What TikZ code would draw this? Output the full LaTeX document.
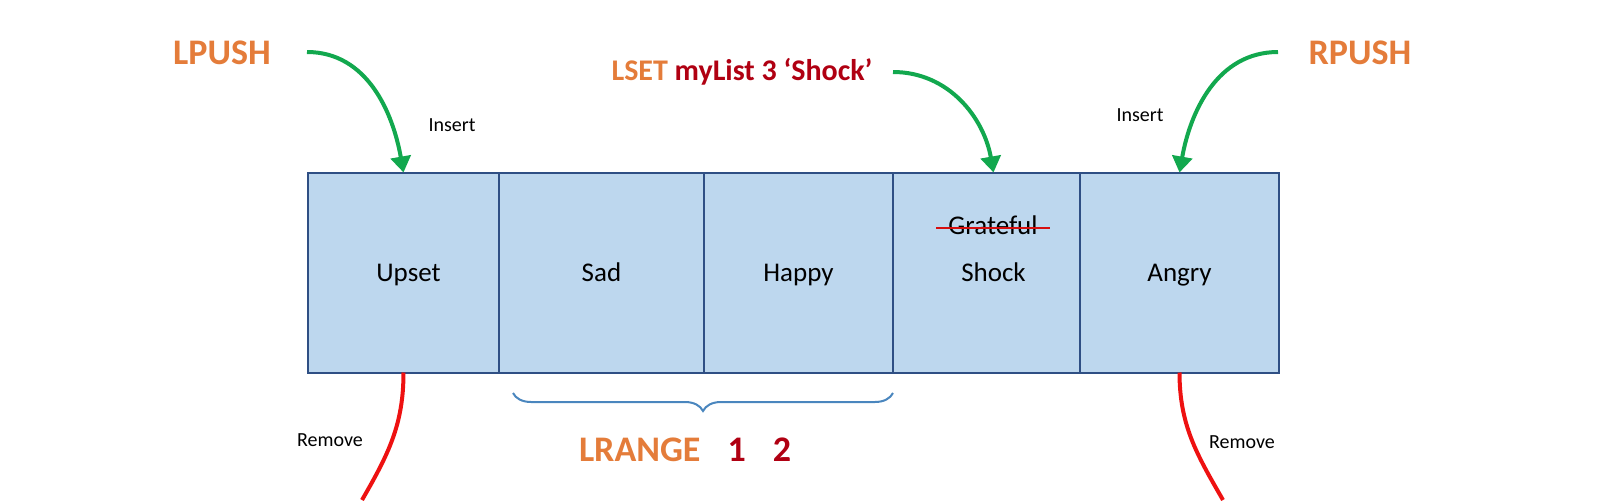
\documentclass[tikz,border=0pt]{standalone}
\usepackage{fontspec}
\setmainfont{Carlito}
\usetikzlibrary{positioning,arrows.meta,decorations.pathreplacing}

\definecolor{cmdorange}{HTML}{E47C3A}
\definecolor{argred}{HTML}{B00012}
\definecolor{insgreen}{HTML}{12A84E}
\definecolor{remred}{HTML}{EE1111}
\definecolor{cellfill}{HTML}{BDD7EE}
\definecolor{celldraw}{HTML}{2F4F84}
\definecolor{bracecol}{HTML}{4A86BE}

\tikzset{
  cell/.style={draw=celldraw, fill=cellfill, line width=1pt, minimum height=100pt,
    outer sep=0pt, inner sep=0pt, text height=1.05em, text depth=0.2em,
    font=\fontsize{13.5}{16}\selectfont},
  cmd/.style={font=\fontsize{18}{21}\selectfont\bfseries, text=cmdorange},
  note/.style={font=\fontsize{10}{12}\selectfont},
  insarrow/.style={draw=insgreen, line width=2pt, -{Triangle[width=10pt,length=8pt]}},
  remline/.style={draw=remred, line width=2pt},
}

\begin{document}
\begin{tikzpicture}[x=0.5pt, y=0.5pt]

  \useasboundingbox (0,0) rectangle (1600,500);
  \clip (0,0) rectangle (1600,500);

  % List cells
  \node[cell, minimum width=95.5pt] (upset) at (403.5,227.5) {\hspace{5pt}Upset};
  \node[cell, minimum width=102.5pt, right=0pt of upset] (sad) {Sad};
  \node[cell, minimum width=94.5pt, right=0pt of sad] (happy) {Happy};
  \node[cell, minimum width=93.5pt, right=0pt of happy] (shock) {\hspace{7pt}Shock};
  \node[cell, minimum width=99.5pt, right=0pt of shock] (angry) {Angry};

  \node[font=\fontsize{13.5}{16}\selectfont, inner xsep=6pt] (grateful) at (993,275) {Grateful};
  \draw[remred!90!black, line width=1pt] ([yshift=-1.5pt]grateful.west) -- ([yshift=-1.5pt]grateful.east);

  % Commands
  \node[cmd] (lpush) at (222,447) {LPUSH};
  \node[cmd] (rpush) at (1360,447) {RPUSH};
  \node[font=\fontsize{15}{18}\selectfont\bfseries] (lset) at (742,428)
    {\textcolor{cmdorange}{LSET} \textcolor{argred}{myList 3 ‘Shock’}};
  \node[cmd] (lrange) at (685,50)
    {LRANGE\hspace{0.75em}\textcolor{argred}{1}\hspace{0.75em}\textcolor{argred}{2}};

  \node[note] (insl) at (452,375) {Insert};
  \node[note] (insr) at (1140,385) {Insert};
  \node[note] (reml) at (330,60) {Remove};
  \node[note] (remr) at (1242,58) {Remove};

  % Insert arrows
  \coordinate (lpushout) at (307,448);
  \coordinate (rpushout) at (1278,448);
  \coordinate (lsetout) at (893,428);
  \draw[insarrow] (lpushout) to[out=0, in=100] (upset.north);
  \draw[insarrow] (lsetout) to[out=0, in=100] ([xshift=3.5pt]shock.north);
  \draw[insarrow] (rpushout) to[out=180, in=80] (angry.north);

  % Remove lines
  \coordinate (remlend) at (362,0);
  \coordinate (remrend) at (1223,0);
  \draw[remline] (upset.south) to[out=-90, in=60] (remlend);
  \draw[remline] (angry.south) to[out=-90, in=120] (remrend);

  % Range brace
  \coordinate (bracel) at (513,107);
  \coordinate (bracer) at (893,107);
  \draw[bracecol, line width=1pt, decorate,
    decoration={brace, mirror, amplitude=9pt}] (bracel) -- (bracer);

\end{tikzpicture}
\end{document}
